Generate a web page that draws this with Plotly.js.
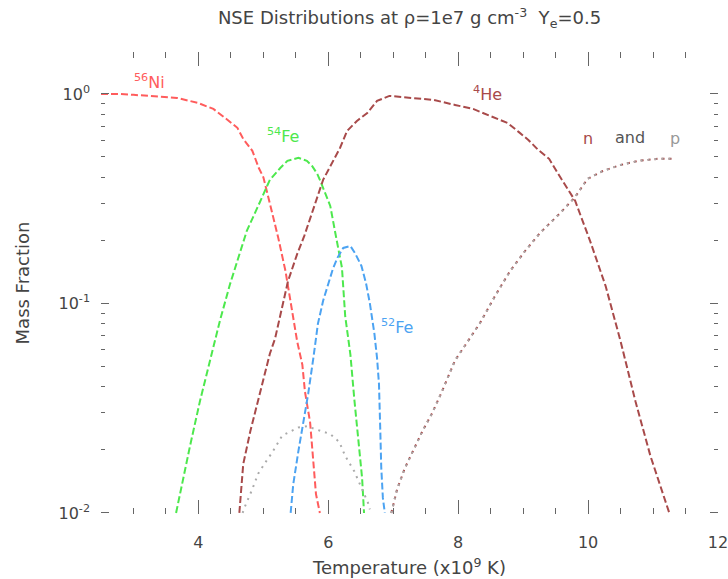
<!DOCTYPE html>
<html>
<head>
<meta charset="utf-8">
<script src="https://cdn.plot.ly/plotly-3.0.1.min.js"></script>
<style>
  html, body { margin: 0; padding: 0; background: #ffffff; }
  #chart { width: 728px; height: 579px; }
</style>
</head>
<body>
<div id="chart"></div>
<script>
// Temperatures in units of 1e9 K, mass fractions X_i in NSE at rho = 1e7 g/cm^3, Ye = 0.5

const tNi56 = [2.5, 2.76, 3.0, 3.29, 3.67, 3.99, 4.23, 4.41, 4.60, 4.69, 4.83, 4.93, 5.0, 5.1, 5.23, 5.34, 5.44, 5.52, 5.60, 5.64, 5.72, 5.77, 5.81, 5.87];
const xNi56 = [1.0, 1.0, 0.99, 0.978, 0.957, 0.906, 0.848, 0.768, 0.689, 0.61, 0.535, 0.443, 0.40, 0.30, 0.205, 0.143, 0.095, 0.066, 0.051, 0.038, 0.027, 0.017, 0.0123, 0.010];

const tFe54 = [3.656, 3.763, 3.871, 4.025, 4.18, 4.334, 4.488, 4.59, 4.745, 4.92, 5.10, 5.26, 5.37, 5.54, 5.67, 5.75, 5.83, 5.87, 6.03, 6.11, 6.21, 6.26, 6.34, 6.40, 6.48, 6.52, 6.55];
const xFe54 = [0.010, 0.0145, 0.0209, 0.0343, 0.0543, 0.0834, 0.124, 0.156, 0.222, 0.292, 0.389, 0.443, 0.479, 0.495, 0.479, 0.453, 0.415, 0.389, 0.292, 0.215, 0.148, 0.087, 0.057, 0.035, 0.0204, 0.0147, 0.010];

const tFe52 = [5.42, 5.46, 5.54, 5.61, 5.69, 5.77, 5.84, 5.92, 6.0, 6.07, 6.14, 6.23, 6.34, 6.41, 6.51, 6.58, 6.64, 6.71, 6.75, 6.78, 6.80, 6.815, 6.84, 6.87];
const xFe52 = [0.010, 0.0137, 0.0198, 0.0266, 0.037, 0.055, 0.080, 0.103, 0.124, 0.146, 0.165, 0.184, 0.188, 0.174, 0.151, 0.125, 0.100, 0.0715, 0.055, 0.0413, 0.025, 0.0165, 0.0118, 0.010];

const tHe4 = [4.63, 4.69, 4.80, 4.90, 5.0, 5.10, 5.18, 5.29, 5.38, 5.52, 5.63, 5.92, 6.07, 6.18, 6.29, 6.44, 6.60, 6.75, 6.94, 7.31, 7.62, 7.95, 8.23, 8.49, 8.76, 8.93, 9.08, 9.23, 9.40, 9.54, 9.80, 10.03, 10.27, 10.5, 10.73, 10.96, 11.11, 11.25];
const xHe4 = [0.010, 0.0171, 0.0246, 0.033, 0.044, 0.0575, 0.068, 0.095, 0.128, 0.172, 0.21, 0.389, 0.479, 0.552, 0.666, 0.743, 0.811, 0.926, 0.978, 0.957, 0.936, 0.886, 0.848, 0.785, 0.727, 0.659, 0.603, 0.541, 0.49, 0.415, 0.309, 0.199, 0.121, 0.066, 0.034, 0.0187, 0.0135, 0.010];

// free nucleons: protons appear twice (low-T bump, then photodisintegration), neutrons only at high T
const tProtonLow = [4.68, 4.72, 4.83, 4.92, 5.06, 5.13, 5.29, 5.54, 5.67, 6.03, 6.17, 6.26, 6.40, 6.61, 6.64];
const xProtonLow = [0.010, 0.0108, 0.013, 0.0154, 0.018, 0.0193, 0.0234, 0.0256, 0.0259, 0.0238, 0.0218, 0.0187, 0.0158, 0.0112, 0.0104];

const tNucleonHot = [6.97, 7.06, 7.18, 7.31, 7.45, 7.60, 7.75, 7.95, 8.11, 8.34, 8.57, 8.80, 9.03, 9.26, 9.57, 9.80, 9.99, 10.23, 10.50, 10.77, 11.07, 11.31];
const xNeutronHot = [0.010, 0.013, 0.0164, 0.020, 0.0246, 0.030, 0.038, 0.0534, 0.063, 0.081, 0.109, 0.143, 0.178, 0.217, 0.27, 0.322, 0.393, 0.429, 0.458, 0.479, 0.49, 0.49];
const xProtonHot = [0.010, 0.013, 0.0164, 0.020, 0.0246, 0.030, 0.038, 0.0534, 0.063, 0.081, 0.109, 0.143, 0.178, 0.217, 0.27, 0.322, 0.393, 0.429, 0.458, 0.479, 0.49, 0.49];

const xTicks = [4, 6, 8, 10, 12];
const yTicks = [0.01, 0.1, 1];
const yTickText = ['10<sup>-2</sup>', '10<sup>-1</sup>', '10<sup>0</sup>'];
const yMinor = [0.02, 0.03, 0.04, 0.05, 0.06, 0.07, 0.08, 0.09, 0.2, 0.3, 0.4, 0.5, 0.6, 0.7, 0.8, 0.9];

const cNi = '#ff5c5c';
const cFe54 = '#4de84d';
const cFe52 = '#4ca3f2';
const cHe = '#a84a4a';
const cP = '#aaaaaa';
const ink = '#444444';
const FONT = 'DejaVu Sans';

function curve(x, y, color, dash) {
  return {
    x: x, y: y, type: 'scatter', mode: 'lines',
    line: { color: color, width: 2, dash: dash },
    hoverinfo: 'skip', showlegend: false, connectgaps: false
  };
}

const traces = [
  curve(tNi56, xNi56, cNi, '7px,3px'),
  curve(tFe54, xFe54, cFe54, '7px,3px'),
  curve(tFe52, xFe52, cFe52, '7px,3px'),
  curve(tHe4, xHe4, cHe, '7px,3px'),
  curve(tProtonLow, xProtonLow, cP, '2px,5px'),
  curve(tNucleonHot, xNeutronHot, cHe, '3px,4px'),
  curve(tNucleonHot, xProtonHot, cP, '2px,5px')
];

// curve labels, placed in data coordinates (log axis wants log10 of the value)
function label(x, frac, text, color) {
  return {
    x: x, y: Math.log10(frac), xref: 'x', yref: 'y', text: text, showarrow: false,
    font: { family: FONT, size: 16, color: color }, xanchor: 'center', yanchor: 'middle'
  };
}

const layout = {
  width: 728, height: 579,
  margin: { l: 101, r: 10, t: 52, b: 65, pad: 0 },
  paper_bgcolor: '#ffffff', plot_bgcolor: '#ffffff',
  font: { family: FONT, color: ink, size: 15 },
  title: {
    text: 'NSE Distributions at \u03c1=1e7 g cm<sup>-3</sup>  Y<sub>e</sub>=0.5',
    font: { family: FONT, size: 18, color: ink },
    xref: 'paper', x: 0.5, xanchor: 'center',
    yref: 'container', y: 1 - 18 / 579, yanchor: 'middle'
  },
  xaxis: {
    type: 'linear', range: [2.5, 12],
    tickmode: 'array', tickvals: xTicks,
    ticks: 'inside', ticklen: 14, tickwidth: 1, tickcolor: '#666',
    minor: { dtick: 0.5, tick0: 0, ticks: 'inside', ticklen: 6, tickwidth: 1, tickcolor: '#666' },
    mirror: 'ticks', showline: false, showgrid: false, zeroline: false,
    tickfont: { family: FONT, size: 16, color: ink },
    ticklabelstandoff: 17,
    ticklabeloverflow: 'allow',
    title: { text: 'Temperature (x10<sup>9</sup> K)', font: { family: FONT, size: 18, color: ink }, standoff: 10 }
  },
  yaxis: {
    type: 'log', range: [-2.005, 0.2],
    tickmode: 'array', tickvals: yTicks, ticktext: yTickText,
    ticks: 'inside', ticklen: 8, tickwidth: 1, tickcolor: '#666',
    minor: { tickmode: 'array', tickvals: yMinor, ticks: 'inside', ticklen: 4, tickwidth: 1, tickcolor: '#666' },
    mirror: 'ticks', showline: false, showgrid: false, zeroline: false,
    tickfont: { family: FONT, size: 16, color: ink },
    ticklabelstandoff: 10,
    title: { text: 'Mass Fraction', font: { family: FONT, size: 18, color: ink }, standoff: 24 }
  },
  annotations: [
    label(3.24, 1.15, '<sup>56</sup>Ni', cNi),
    label(5.30, 0.63, '<sup>54</sup>Fe', cFe54),
    label(7.06, 0.078, '<sup>52</sup>Fe', cFe52),
    label(8.45, 1.0, '<sup>4</sup>He', cHe),
    label(10.0, 0.61, 'n', cHe),
    label(10.65, 0.62, 'and', '#555555'),
    label(11.34, 0.61, 'p', '#999999')
  ]
};

Plotly.newPlot('chart', traces, layout, { staticPlot: true, displayModeBar: false });
</script>
</body>
</html>
